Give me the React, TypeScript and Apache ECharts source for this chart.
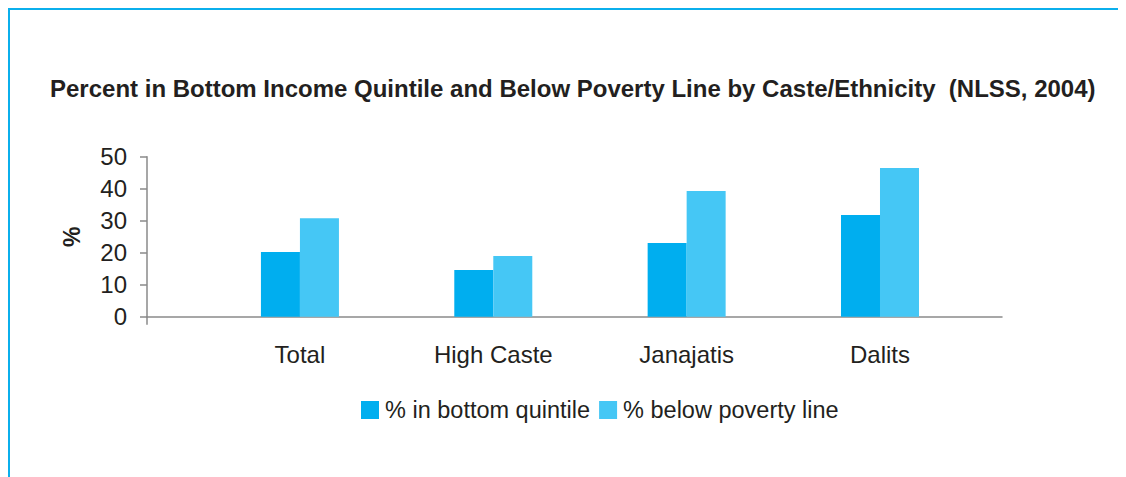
import React, { useEffect, useRef } from "react";
import * as echarts from "echarts";

const categories = ["Total", "High Caste", "Janajatis", "Dalits"];
const bottomQuintile = [20.2, 14.6, 23.0, 31.8];
const belowPoverty = [30.8, 19.0, 39.3, 46.5];
const seriesNames = ["% in bottom quintile", "% below poverty line"];
const yMin = 0;
const yMax = 50;
const yInterval = 10;
const titleText =
  "Percent in Bottom Income Quintile and Below Poverty Line by Caste/Ethnicity  (NLSS, 2004)";

const xMin = 0.209;
const xMax = 4.631;

const FONT = "'Liberation Sans', Arial, Helvetica, sans-serif";

export default function App() {
  const ref = useRef<HTMLDivElement>(null);
  useEffect(() => {
    if (!ref.current) return;
    const chart = echarts.init(ref.current, undefined, { renderer: "svg" });
    const positions = categories.map((_, i) => i + 1);
    chart.setOption({
      animation: false,
      textStyle: { fontFamily: FONT },
      title: {
        text: titleText,
        left: 42,
        top: 68,
        padding: 0,
        textStyle: { fontFamily: FONT, fontSize: 24, fontWeight: "bold", color: "#231f20" },
      },
      legend: {
        left: 353,
        top: 390,
        padding: 0,
        itemWidth: 18,
        itemHeight: 18,
        itemGap: 9,
        icon: "rect",
        textStyle: { fontFamily: FONT, fontSize: 23.5, color: "#231f20", padding: [0, 0, 0, 1] },
        data: seriesNames,
      },
      grid: { left: 139, top: 148.7, width: 855, height: 160, containLabel: false },
      xAxis: {
        type: "value",
        min: xMin,
        max: xMax,
        splitLine: { show: false },
        axisLine: { show: true, lineStyle: { color: "#8a8a8a", width: 1.5 } },
        axisTick: { show: true, customValues: [xMin], length: 8, lineStyle: { color: "#8a8a8a", width: 1.5 } },
        axisLabel: {
          customValues: positions,
          formatter: (v: number) => categories[Math.round(v) - 1] ?? "",
          fontFamily: FONT,
          fontSize: 24,
          color: "#231f20",
          margin: 26,
        },
      },
      yAxis: {
        type: "value",
        min: yMin,
        max: yMax,
        interval: yInterval,
        name: "%",
        nameLocation: "middle",
        nameRotate: 90,
        nameGap: 64,
        nameTextStyle: { fontFamily: FONT, fontSize: 23, fontWeight: "bold", color: "#231f20" },
        splitLine: { show: false },
        axisLine: { show: true, lineStyle: { color: "#8a8a8a", width: 1.5 } },
        axisTick: { show: true, length: 7, lineStyle: { color: "#8a8a8a", width: 1.5 } },
        axisLabel: { fontFamily: FONT, fontSize: 24, color: "#231f20", margin: 20 },
      },
      series: [
        {
          name: seriesNames[0],
          type: "bar",
          barWidth: 39,
          barGap: "0%",
          itemStyle: { color: "#00aeef" },
          data: bottomQuintile.map((v, i) => [positions[i], v]),
        },
        {
          name: seriesNames[1],
          type: "bar",
          barWidth: 39,
          barGap: "0%",
          itemStyle: { color: "#45c7f5" },
          data: belowPoverty.map((v, i) => [positions[i], v]),
        },
      ],
    });
    return () => chart.dispose();
  }, []);
  return (
    <div style={{ position: "relative", width: 1118, height: 469 }}>
      <div ref={ref} style={{ position: "absolute", left: 0, top: 0, width: 1118, height: 469 }} />
      <div
        style={{
          position: "absolute",
          left: 0,
          top: 0,
          width: 1118,
          height: 469,
          boxSizing: "border-box",
          borderTop: "2.5px solid #0bafec",
          borderLeft: "2.5px solid #0bafec",
          pointerEvents: "none",
        }}
      />
    </div>
  );
}
